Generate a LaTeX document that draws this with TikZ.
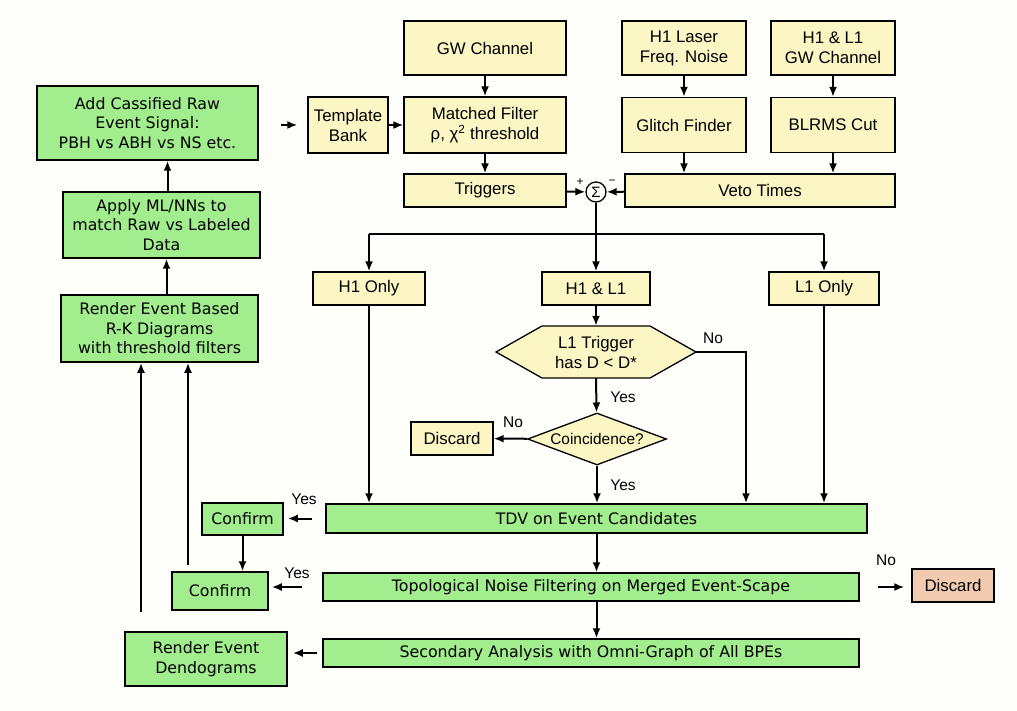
\documentclass[tikz,border=0pt]{standalone}
\usepackage{fontspec}
\setmainfont{Liberation Sans}
\newfontfamily\dejavu{DejaVu Sans}
\usepackage{tikz}
\usetikzlibrary{arrows.meta,shapes.geometric}
\definecolor{boxyellow}{RGB}{251,246,196}
\definecolor{boxgreen}{RGB}{162,238,142}
\definecolor{boxorange}{RGB}{242,202,176}
\definecolor{paper}{RGB}{254,254,251}
\tikzstyle{yel} = [draw=black, line width=1.3pt, fill=boxyellow, align=center, inner sep=1pt, font={\fontsize{16.8}{20}\selectfont}]
\tikzstyle{grn} = [draw=black, line width=1.5pt, fill=boxgreen, align=center, inner sep=1pt, font={\dejavu\fontsize{15.8}{19.5}\selectfont}]
\tikzstyle{org} = [yel, fill=boxorange]
\tikzstyle{dia} = [yel, diamond, aspect=2.67, inner sep=0pt, font={\fontsize{15.4}{18}\selectfont}]
\tikzstyle{sum} = [draw=black, line width=1.3pt, circle, fill=paper, minimum size=20pt, inner sep=0pt, font={\fontsize{15}{15}\selectfont}]
\tikzstyle{lbl} = [font={\fontsize{15.5}{17}\selectfont}]
\tikzstyle{arr} = [-{Latex[length=10pt,width=8pt]}, line width=2pt]

\begin{document}
\begin{tikzpicture}[x=1pt,y=-1pt]
    \fill[paper] (0,0) rectangle (1017,711);
    % detector side
    \node[yel,minimum width=162,minimum height=54](gw) at (485,48){GW Channel};
    \node[yel,minimum width=124,minimum height=54](laser) at (684,48){H1 Laser\\Freq. Noise};
    \node[yel,minimum width=124,minimum height=54](hlgw) at (833,48){H1 \& L1\\GW Channel};
    \node[yel,minimum width=80,minimum height=56](tbank) at (348,125){Template\\Bank};
    \node[yel,minimum width=162,minimum height=56](mfilt) at (485,125){Matched Filter\\ρ, χ\textsuperscript{2} threshold};
    \node[yel,minimum width=124,minimum height=55](glitch) at (684,125){Glitch Finder};
    \node[yel,minimum width=124,minimum height=55](blrms) at (833,125){BLRMS Cut};
    \node[yel,minimum width=162,minimum height=33](trig) at (485,190.5){Triggers};
    \node[yel,minimum width=270,minimum height=33](veto) at (760,190.5){Veto Times};
    \node[sum](sig) at (596,192){Σ};
    \node[lbl,font={\fontsize{12}{12}\selectfont}](plus) at (580,182){+};
    \node[lbl,font={\fontsize{12}{12}\selectfont}](minus) at (612,182){−};
    \coordinate (bus) at (596,234);
    \node[yel,minimum width=112,minimum height=33](h1o) at (369,288.5){H1 Only};
    \node[yel,minimum width=108,minimum height=33](hl) at (596,288.5){H1 \& L1};
    \node[yel,minimum width=110,minimum height=33](l1o) at (824,288.5){L1 Only};
    \draw[yel] (496,352) -- (542,326) -- (650,326) -- (696,352) -- (650,378) -- (542,378) -- cycle;
    \node[align=center,font={\fontsize{16.8}{20}\selectfont},minimum width=200,minimum height=52](hex) at (596,352){L1 Trigger\\has D < D*};
    \coordinate (nox) at (746,352);
    \node[dia,minimum width=139,minimum height=52](coin) at (597,439){Coincidence?};
    \node[yel,minimum width=82,minimum height=33](disc) at (452,438.5){Discard};
    \node[lbl](no1) at (713,338){No};
    \node[lbl](yes1) at (623,397){Yes};
    \node[lbl](no2) at (513,422){No};
    \node[lbl](yes2) at (623,485){Yes};
    % event side
    \node[grn,minimum width=541,minimum height=29](tdv) at (596.5,518.5){TDV on Event Candidates};
    \node[grn,minimum width=536,minimum height=28](topo) at (591,587){Topological Noise Filtering on Merged Event-Scape};
    \node[grn,minimum width=536,minimum height=28](second) at (591,653){Secondary Analysis with Omni-Graph of All BPEs};
    \node[org,minimum width=82,minimum height=33](disc2) at (953,585.5){Discard};
    \node[grn,minimum width=81,minimum height=32](conf1) at (242.5,519){Confirm};
    \node[grn,minimum width=96,minimum height=38](conf2) at (220,591){Confirm};
    \node[grn,minimum width=162,minimum height=54](dendo) at (206,659){Render Event\\Dendograms};
    \node[grn,minimum width=221,minimum height=74](addc) at (147.5,123){Add Cassified Raw\\Event Signal:\\PBH vs ABH vs NS etc.};
    \node[grn,minimum width=197,minimum height=66](aml) at (161.5,225){Apply ML/NNs to\\match Raw vs Labeled\\Data};
    \node[grn,minimum width=197,minimum height=67](rkd) at (159.5,328.5){Render Event Based\\R-K Diagrams\\with threshold filters};
    \node[lbl](yes3) at (304,499){Yes};
    \node[lbl](yes4) at (297,573){Yes};
    \node[lbl](no3) at (886,560){No};
    \coordinate (c2up) at (188,565);
    \coordinate (dup) at (141,612);
    % connectors
    \draw[arr] (gw) -- (mfilt);
    \draw[arr] (laser) -- (glitch);
    \draw[arr] (hlgw) -- (blrms);
    \draw[arr] (tbank) -- (mfilt);
    \draw[arr] (mfilt) -- (trig);
    \draw[arr] (glitch.south) -- (glitch.south |- veto.north);
    \draw[arr] (blrms.south) -- (blrms.south |- veto.north);
    \draw[arr] (trig) -- (sig);
    \draw[arr] (veto) -- (sig);
    \draw[arr] (sig) -- (hl);
    \draw[line width=2pt] (h1o.north |- bus) -- (l1o.north |- bus);
    \draw[arr] (h1o.north |- bus) -- (h1o);
    \draw[arr] (l1o.north |- bus) -- (l1o);
    \draw[arr] (hl) -- (hex.north);
    \draw[arr] (hex.east) -- (nox) -- (nox |- tdv.north);
    \draw[arr] (hex.south) -- (coin);
    \draw[arr] (coin) -- (disc);
    \draw[arr] (coin) -- (coin |- tdv.north);
    \draw[arr] (h1o) -- (h1o.south |- tdv.north);
    \draw[arr] (l1o) -- (l1o.south |- tdv.north);
    \draw[arr,shorten <=13pt,shorten >=4pt] (tdv.west) -- (tdv.west -| conf1.east);
    \draw[arr] (conf1) -- (conf1.south |- conf2.north);
    \draw[arr,shorten <=20pt,shorten >=3pt] (topo.west) -- (topo.west -| conf2.east);
    \draw[arr] (tdv.south) -- (tdv.south |- topo.north);
    \draw[arr] (tdv.south |- topo.south) -- (tdv.south |- second.north);
    \draw[arr,shorten <=5pt,shorten >=5pt] (second.west) -- (second.west -| dendo.east);
    \draw[arr,shorten <=18pt,shorten >=7pt] (topo.east) -- (topo.east -| disc2.west);
    \draw[arr] (c2up) -- (c2up |- rkd.south);
    \draw[arr] (dup) -- (dup |- rkd.south);
    \draw[arr] ([xshift=7pt]rkd.north) -- ([xshift=7pt]rkd.north |- aml.south);
    \draw[arr] ([xshift=6pt]aml.north) -- ([xshift=6pt]aml.north |- addc.south);
    \draw[arr,shorten <=22pt,shorten >=10pt] (addc.east |- tbank.west) -- (tbank.west);
  \end{tikzpicture}
\end{document}
